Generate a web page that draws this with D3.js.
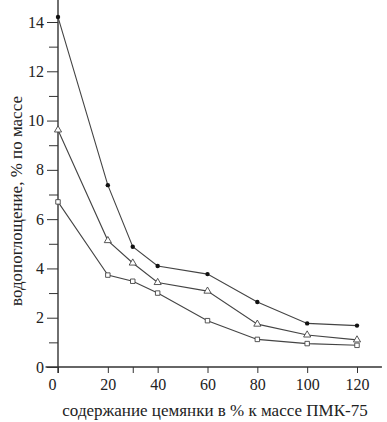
<!DOCTYPE html>
<html>
<head>
<meta charset="utf-8">
<script src="https://cdn.jsdelivr.net/npm/d3@7"></script>
<style>
  body { margin: 0; background: #fff; }
  svg text { fill: #222; }
  .axis line, .axis path { stroke: #333; }
</style>
</head>
<body>
<svg class="chart" width="387" height="422"></svg>
<script>
// data
var content = [0, 20, 30, 40, 60, 80, 100, 120];
var circles = [14.2, 7.38, 4.88, 4.1, 3.77, 2.64, 1.77, 1.68];
var triangles = [9.62, 5.13, 4.22, 3.43, 3.08, 1.74, 1.3, 1.1];
var squares = [6.7, 3.73, 3.48, 3.0, 1.88, 1.12, 0.95, 0.88];
var xTicks = [0, 20, 30, 40, 60, 80, 100, 120];
var yTicks = [0, 2, 4, 6, 8, 10, 12, 14];
var yMinor = [1, 3, 5, 7, 9, 11, 13];

var serif = "Liberation Serif";

var svg = d3.select(".chart");

var x = d3.scaleLinear().domain([0, 120]).range([58, 357]);
var y = d3.scaleLinear().domain([0, 14]).range([367, 22]);

// axes
var yaxis = svg.append("g").attr("class", "axis")
    .attr("transform", "translate(" + x(0) + ",0)")
    .call(d3.axisLeft(y).tickValues(yTicks).tickSize(11).tickPadding(3).tickFormat(d3.format("d")));
yaxis.select(".domain").remove();
var yminor = svg.append("g").attr("class", "axis")
    .attr("transform", "translate(" + x(0) + ",0)")
    .call(d3.axisLeft(y).tickValues(yMinor).tickSize(9).tickFormat(""));
yminor.select(".domain").remove();

var xaxis = svg.append("g").attr("class", "axis")
    .attr("transform", "translate(0," + y(0) + ")")
    .call(d3.axisBottom(x).tickValues(xTicks).tickSize(6).tickPadding(6)
      .tickFormat(function(d) { return d == 30 ? "" : d; }));
xaxis.select(".domain").remove();
xaxis.selectAll("text").attr("dx", function(d) { return d == 0 ? "-6" : "0"; });
svg.selectAll(".axis").attr("font-family", serif).attr("font-size", 16);

// axis lines
svg.append("line")
    .attr("x1", x(-5)).attr("x2", x(130))
    .attr("y1", y(0)).attr("y2", y(0))
    .attr("stroke", "#333").attr("stroke-width", 1.6);
svg.append("line")
    .attr("x1", x(0)).attr("x2", x(0))
    .attr("y1", y(0) + 6).attr("y2", 0)
    .attr("stroke", "#333").attr("stroke-width", 1.4);

// series
var line = d3.line()
    .x(function(d, i) { return x(content[i]); })
    .y(function(d) { return y(d); });

[circles, triangles, squares].forEach(function(s) {
  svg.append("path")
    .attr("d", line(s))
    .attr("fill", "none")
    .attr("stroke", "#444")
    .attr("stroke-width", 1.1);
});

svg.selectAll(".c").data(circles).enter().append("circle")
    .attr("cx", function(d, i) { return x(content[i]); })
    .attr("cy", function(d) { return y(d); })
    .attr("r", 2.2)
    .attr("fill", "#111");

var tri = d3.symbol().type(d3.symbolTriangle).size(22);
svg.selectAll(".t").data(triangles).enter().append("path")
    .attr("d", tri)
    .attr("transform", function(d, i) { return "translate(" + x(content[i]) + "," + y(d) + ")"; })
    .attr("fill", "#fff")
    .attr("stroke", "#444")
    .attr("stroke-width", 0.9);

var sq = d3.symbol().type(d3.symbolSquare).size(20);
svg.selectAll(".s").data(squares).enter().append("path")
    .attr("d", sq)
    .attr("transform", function(d, i) { return "translate(" + x(content[i]) + "," + y(d) + ")"; })
    .attr("fill", "#fff")
    .attr("stroke", "#444")
    .attr("stroke-width", 0.9);

// labels
svg.append("text")
    .attr("font-family", serif).attr("font-size", 17)
    .attr("text-anchor", "middle")
    .attr("transform", "translate(22,201) rotate(-90)")
    .text("водопоглощение, % по массе");
svg.append("text")
    .attr("font-family", serif).attr("font-size", 17)
    .attr("text-anchor", "middle")
    .attr("x", 215).attr("y", 416)
    .text("содержание цемянки в % к массе ПМК-75");
</script>
</body>
</html>
